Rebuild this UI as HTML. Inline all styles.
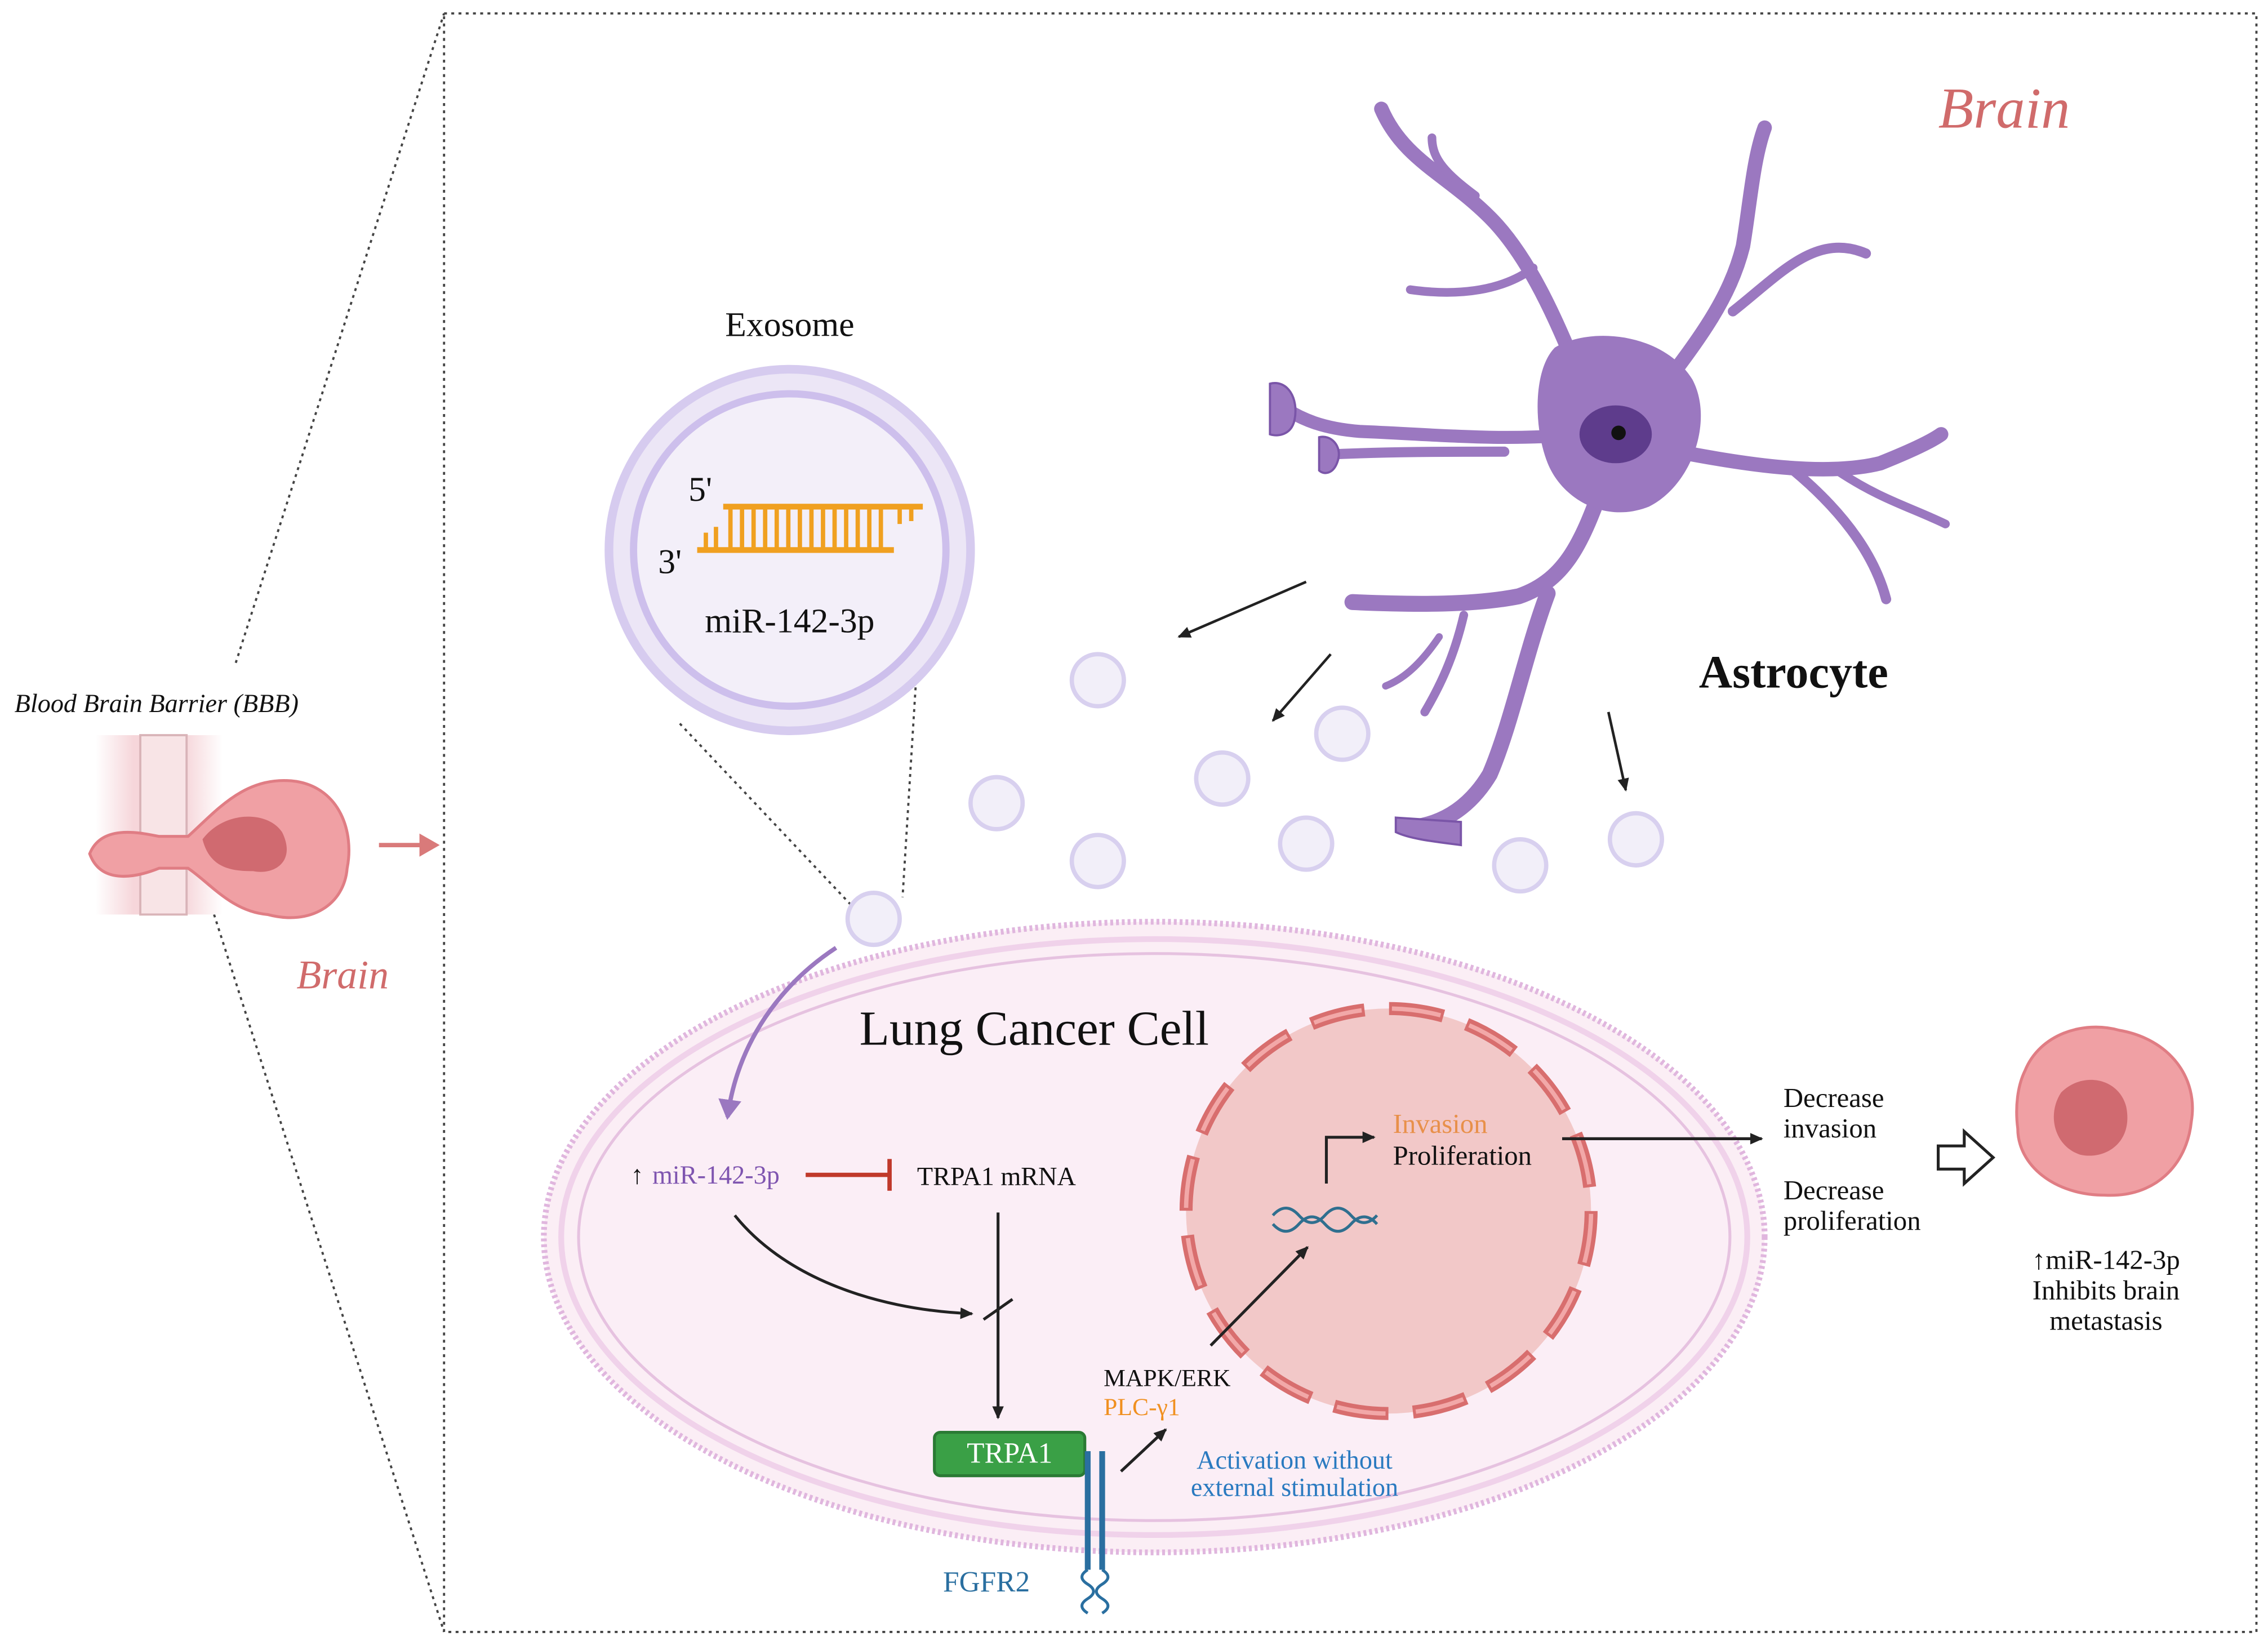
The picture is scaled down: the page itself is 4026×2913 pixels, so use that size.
<!DOCTYPE html>
<html><head><meta charset="utf-8"><style>
html,body{margin:0;padding:0;background:#fff;}
svg{display:block;}
text{font-family:"Liberation Serif",serif;}
</style></head><body>
<svg width="4026" height="2913" viewBox="0 0 1568 1134" xmlns="http://www.w3.org/2000/svg">
<defs>
<marker id="ah" markerWidth="10" markerHeight="10" refX="8" refY="5" orient="auto" markerUnits="userSpaceOnUse"><path d="M0,1 L9,5 L0,9 Z" fill="#222"/></marker>
<marker id="ahp" markerWidth="18" markerHeight="18" refX="12" refY="8" orient="auto" markerUnits="userSpaceOnUse"><path d="M0,0 L14,8 L0,16 Z" fill="#9b78c0"/></marker>
<linearGradient id="bbb" x1="0" x2="1"><stop offset="0" stop-color="#fff"/><stop offset="0.3" stop-color="#f6d6da"/><stop offset="0.7" stop-color="#f6d6da"/><stop offset="1" stop-color="#fff"/></linearGradient>
</defs>
<rect width="1568" height="1134" fill="#fff"/>
<rect x="307" y="9" width="1253" height="1119" fill="none" stroke="#444" stroke-width="1.5" stroke-dasharray="2,3"/>
<line x1="163" y1="458" x2="307" y2="9" stroke="#444" stroke-width="1.5" stroke-dasharray="2,3"/>
<line x1="148" y1="632" x2="307" y2="1128" stroke="#444" stroke-width="1.5" stroke-dasharray="2,3"/>
<text x="10" y="492" font-size="18" font-style="italic" fill="#111">Blood Brain Barrier (BBB)</text>
<rect x="66" y="508" width="88" height="124" fill="url(#bbb)"/>
<rect x="97" y="508" width="32" height="124" fill="#f8e4e6" stroke="#d9b4b8" stroke-width="1.5"/>
<path d="M62,590 C70,570 95,575 110,578 L130,578 C150,560 170,535 205,540 C235,545 245,575 240,600 C238,625 215,640 185,632 C160,630 145,610 130,600 L110,600 C95,606 70,612 62,590 Z" fill="#f0a0a4" stroke="#e07d84" stroke-width="2"/>
<path d="M140,580 C155,560 185,560 195,575 C205,595 190,605 175,602 C160,602 145,600 140,580 Z" fill="#d06a70"/>
<line x1="262" y1="584" x2="292" y2="584" stroke="#d97a7a" stroke-width="3"/>
<path d="M290,576 L304,584 L290,592 Z" fill="#d97a7a"/>
<text x="205" y="683" font-size="28" font-style="italic" fill="#d06b6b">Brain</text>
<text x="1340" y="88" font-size="40" font-style="italic" fill="#d06b6b">Brain</text>
<text x="546" y="232" font-size="24" text-anchor="middle" fill="#111">Exosome</text>
<circle cx="546" cy="380" r="125" fill="#ece6f6" stroke="#d6cbef" stroke-width="6"/>
<circle cx="546" cy="380" r="108" fill="#f3eff9" stroke="#cdbfec" stroke-width="5"/>
<line x1="500" y1="350" x2="638" y2="350" stroke="#f0a020" stroke-width="4"/>
<line x1="482" y1="380" x2="618" y2="380" stroke="#f0a020" stroke-width="4"/>
<g stroke="#f0a020" stroke-width="3">
<line x1="505" y1="350" x2="505" y2="380"/><line x1="513" y1="350" x2="513" y2="380"/><line x1="521" y1="350" x2="521" y2="380"/><line x1="529" y1="350" x2="529" y2="380"/><line x1="537" y1="350" x2="537" y2="380"/><line x1="545" y1="350" x2="545" y2="380"/><line x1="553" y1="350" x2="553" y2="380"/><line x1="561" y1="350" x2="561" y2="380"/><line x1="569" y1="350" x2="569" y2="380"/><line x1="577" y1="350" x2="577" y2="380"/><line x1="585" y1="350" x2="585" y2="380"/><line x1="593" y1="350" x2="593" y2="380"/><line x1="601" y1="350" x2="601" y2="380"/><line x1="609" y1="350" x2="609" y2="380"/>
<line x1="488" y1="380" x2="488" y2="368"/><line x1="495" y1="380" x2="495" y2="364"/><line x1="622" y1="350" x2="622" y2="362"/><line x1="630" y1="350" x2="630" y2="360"/>
</g>
<text x="476" y="346" font-size="24" fill="#111">5'</text>
<text x="455" y="396" font-size="24" fill="#111">3'</text>
<text x="546" y="437" font-size="24" text-anchor="middle" fill="#111">miR-142-3p</text>
<line x1="470" y1="500" x2="588" y2="625" stroke="#444" stroke-width="1.5" stroke-dasharray="2,3"/>
<line x1="633" y1="475" x2="624" y2="620" stroke="#444" stroke-width="1.5" stroke-dasharray="2,3"/>
<!-- astrocyte -->
<g fill="none" stroke="#9b78c0" stroke-linecap="round" stroke-linejoin="round">
<path d="M1100,280 C1080,230 1060,180 1030,150 C1000,120 970,110 955,75" stroke-width="10"/>
<path d="M1020,135 C1000,120 990,110 990,95" stroke-width="6"/>
<path d="M1060,185 C1040,200 1010,205 975,200" stroke-width="6"/>
<path d="M1140,280 C1170,240 1195,210 1205,170 C1210,140 1212,110 1220,88" stroke-width="10"/>
<path d="M1198,215 C1230,190 1255,160 1290,175" stroke-width="7"/>
<path d="M1150,310 C1200,320 1260,330 1300,320 C1320,312 1335,305 1342,300" stroke-width="10"/>
<path d="M1270,325 C1300,345 1320,350 1345,362" stroke-width="6"/>
<path d="M1240,325 C1270,350 1295,380 1304,414" stroke-width="7"/>
<path d="M1090,300 C1040,305 990,300 940,298 C915,296 900,290 885,280" stroke-width="9"/>
<path d="M1040,312 C1000,312 960,312 918,314" stroke-width="7"/>
<path d="M1110,330 C1095,370 1085,400 1050,412 C1020,418 980,418 935,416" stroke-width="11"/>
<path d="M1070,410 C1055,450 1045,500 1030,535 C1015,560 995,570 975,572" stroke-width="11"/>
<path d="M1012,425 C1005,455 995,475 985,492" stroke-width="6"/>
<path d="M995,440 C980,462 968,470 958,474" stroke-width="5"/>
</g>
<g fill="#9b78c0" stroke="#7a55a8" stroke-width="1.5">
<path d="M878,265 C890,262 898,275 895,290 C893,300 884,302 878,300 Z"/>
<path d="M912,302 C920,300 928,308 925,318 C922,328 915,328 912,325 Z"/>
<path d="M965,565 L1010,568 L1010,584 C995,582 975,580 965,575 Z"/>
<path d="M1075,240 C1100,225 1150,230 1170,262 C1185,290 1170,335 1140,350 C1110,362 1080,345 1070,320 C1060,295 1060,255 1075,240 Z" stroke="none"/>
</g>
<ellipse cx="1117" cy="300" rx="25" ry="20" fill="#5e3c8c"/>
<circle cx="1119" cy="299" r="5" fill="#111"/>
<text x="1240" y="475" font-size="32" font-weight="bold" text-anchor="middle" font-family="Liberation Sans,sans-serif" fill="#111">Astrocyte</text>
<line x1="903" y1="402" x2="815" y2="440" stroke="#222" stroke-width="1.8" marker-end="url(#ah)"/>
<line x1="920" y1="452" x2="880" y2="498" stroke="#222" stroke-width="1.8" marker-end="url(#ah)"/>
<line x1="1112" y1="492" x2="1124" y2="546" stroke="#222" stroke-width="1.8" marker-end="url(#ah)"/>
<ellipse cx="798" cy="855" rx="422" ry="218" fill="#fbeef5" stroke="#e0b6de" stroke-width="4" stroke-dasharray="2,2"/>
<ellipse cx="798" cy="855" rx="410" ry="206" fill="none" stroke="#f0d2ea" stroke-width="4"/>
<ellipse cx="798" cy="855" rx="398" ry="196" fill="#fbeef6" stroke="#e6c2e0" stroke-width="2"/>
<g fill="#f2eff9" stroke="#d8d0ef" stroke-width="3">
<circle cx="759" cy="470" r="18"/><circle cx="689" cy="555" r="18"/><circle cx="845" cy="538" r="18"/><circle cx="928" cy="507" r="18"/><circle cx="759" cy="595" r="18"/><circle cx="903" cy="583" r="18"/><circle cx="1051" cy="598" r="18"/><circle cx="1131" cy="580" r="18"/><circle cx="604" cy="635" r="18"/>
</g>
<text x="715" y="722" font-size="34" text-anchor="middle" font-family="Liberation Sans,sans-serif" fill="#111">Lung Cancer Cell</text>
<path d="M578,655 C540,680 510,720 503,772" fill="none" stroke="#9b78c0" stroke-width="3" marker-end="url(#ahp)"/>
<circle cx="960" cy="837" r="140" fill="#f2c8c8"/>
<circle cx="960" cy="837" r="140" fill="none" stroke="#d86e6e" stroke-width="9" stroke-dasharray="38,17"/>
<circle cx="960" cy="837" r="140" fill="none" stroke="#f2a8a8" stroke-width="3" stroke-dasharray="34,21" stroke-dashoffset="-2"/>
<path d="M880,840 q9,-10 18,0 t18,0 t18,0 t18,0 M880,846 q9,10 18,0 t18,0 t18,0 t18,0" fill="none" stroke="#2f6f8f" stroke-width="2"/>
<path d="M917,818 L917,786 L950,786" fill="none" stroke="#222" stroke-width="2" marker-end="url(#ah)"/>
<text x="963" y="783" font-size="19" fill="#e8904a">Invasion</text>
<text x="963" y="805" font-size="19" fill="#111">Proliferation</text>
<line x1="1080" y1="787" x2="1218" y2="787" stroke="#222" stroke-width="2" marker-end="url(#ah)"/>
<text x="436" y="818" font-size="18" fill="#111">↑</text>
<text x="451" y="818" font-size="18" fill="#7f55b0">miR-142-3p</text>
<line x1="557" y1="812" x2="614" y2="812" stroke="#c0392b" stroke-width="3"/>
<line x1="615" y1="801" x2="615" y2="823" stroke="#c0392b" stroke-width="3"/>
<text x="634" y="819" font-size="18" fill="#111">TRPA1 mRNA</text>
<path d="M508,840 C540,880 600,905 672,908" fill="none" stroke="#222" stroke-width="2" marker-end="url(#ah)"/>
<line x1="690" y1="838" x2="690" y2="980" stroke="#222" stroke-width="2" marker-end="url(#ah)"/>
<line x1="680" y1="912" x2="700" y2="898" stroke="#222" stroke-width="2"/>
<rect x="646" y="990" width="104" height="30" rx="4" fill="#3aa046" stroke="#2a7a34" stroke-width="2"/>
<text x="698" y="1011" font-size="20" text-anchor="middle" fill="#fff">TRPA1</text>
<g stroke="#2a6fa0" stroke-width="4"><line x1="752" y1="1003" x2="752" y2="1085"/><line x1="762" y1="1003" x2="762" y2="1085"/></g>
<path d="M752,1085 q-8,5 0,10 t0,10 t0,10 M762,1085 q8,5 0,10 t0,10 t0,10" fill="none" stroke="#2a6fa0" stroke-width="2"/>
<text x="682" y="1100" font-size="20" text-anchor="middle" fill="#2a6fa0">FGFR2</text>
<line x1="775" y1="1017" x2="806" y2="988" stroke="#222" stroke-width="2" marker-end="url(#ah)"/>
<text x="763" y="958" font-size="17" fill="#111">MAPK/ERK</text>
<text x="763" y="978" font-size="17" fill="#f09020">PLC-γ1</text>
<line x1="837" y1="930" x2="904" y2="862" stroke="#222" stroke-width="2" marker-end="url(#ah)"/>
<text x="895" y="1015" font-size="18" text-anchor="middle" fill="#2a7ac0">Activation without</text>
<text x="895" y="1034" font-size="18" text-anchor="middle" fill="#2a7ac0">external stimulation</text>
<text x="1233" y="765" font-size="19" fill="#111">Decrease</text>
<text x="1233" y="786" font-size="19" fill="#111">invasion</text>
<text x="1233" y="829" font-size="19" fill="#111">Decrease</text>
<text x="1233" y="850" font-size="19" fill="#111">proliferation</text>
<path d="M1340,792 L1358,792 L1358,782 L1378,800 L1358,818 L1358,808 L1340,808 Z" fill="#fff" stroke="#222" stroke-width="2"/>
<path d="M1400,740 C1410,715 1440,705 1465,712 C1500,718 1520,745 1515,775 C1512,805 1490,828 1455,826 C1420,826 1395,805 1395,780 C1393,765 1395,750 1400,740 Z" fill="#f0a0a4" stroke="#e07d84" stroke-width="2"/>
<path d="M1425,755 C1440,740 1465,745 1470,765 C1475,790 1455,802 1438,798 C1420,792 1415,770 1425,755 Z" fill="#d06a70"/>
<text x="1456" y="877" font-size="19" text-anchor="middle" fill="#111">↑miR-142-3p</text>
<text x="1456" y="898" font-size="19" text-anchor="middle" fill="#111">Inhibits brain</text>
<text x="1456" y="919" font-size="19" text-anchor="middle" fill="#111">metastasis</text>
</svg>
</body></html>
